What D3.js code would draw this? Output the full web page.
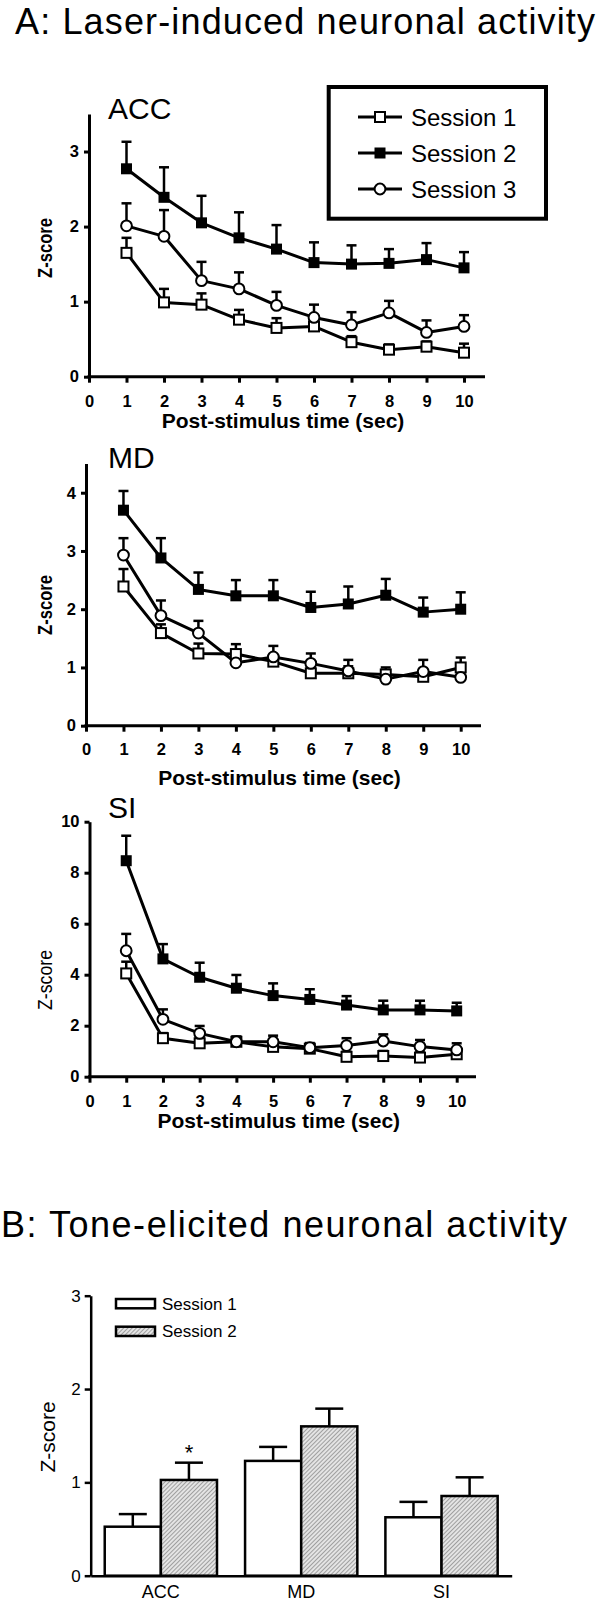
<!DOCTYPE html>
<html><head><meta charset="utf-8">
<script src="https://cdn.jsdelivr.net/npm/d3@7"></script>
<style>
body{margin:0;background:#fff}
svg{display:block}
text{font-family:"Liberation Sans",Arial,Helvetica,sans-serif;fill:#000}
</style>
</head><body>
<svg id="c" width="600" height="1603"></svg>
<script>
// ---------------- DATA ----------------
const timePoints = [1,2,3,4,5,6,7,8,9,10];
const xTickLabels = [0,1,2,3,4,5,6,7,8,9,10];
const sessionNames = ["Session 1","Session 2","Session 3"];

const accS1    = [1.65,0.99,0.96,0.76,0.65,0.67,0.46,0.36,0.40,0.32];
const accS1Sem = [0.20,0.18,0.15,0.13,0.13,0.11,0.08,0.07,0.07,0.12];
const accS2    = [2.77,2.39,2.05,1.85,1.70,1.52,1.50,1.51,1.56,1.45];
const accS2Sem = [0.36,0.40,0.36,0.34,0.32,0.27,0.25,0.19,0.22,0.21];
const accS3    = [2.01,1.87,1.28,1.17,0.95,0.79,0.69,0.85,0.59,0.67];
const accS3Sem = [0.30,0.35,0.25,0.22,0.18,0.17,0.17,0.16,0.16,0.15];
const accYTicks = [0,1,2,3];

const mdS1    = [2.39,1.59,1.24,1.23,1.10,0.90,0.90,0.88,0.84,1.00];
const mdS1Sem = [0.30,0.15,0.17,0.17,0.12,0.12,0.12,0.12,0.12,0.17];
const mdS2    = [3.70,2.88,2.34,2.23,2.23,2.03,2.09,2.24,1.95,2.00];
const mdS2Sem = [0.33,0.34,0.29,0.27,0.27,0.27,0.30,0.28,0.25,0.29];
const mdS3    = [2.93,1.89,1.59,1.08,1.18,1.07,0.94,0.80,0.93,0.83];
const mdS3Sem = [0.29,0.26,0.21,0.12,0.19,0.17,0.19,0.12,0.20,0.15];
const mdYTicks = [0,1,2,3,4];

const siS1    = [4.05,1.51,1.31,1.37,1.17,1.10,0.78,0.81,0.75,0.88];
const siS1Sem = [0.46,0.20,0.20,0.20,0.20,0.15,0.20,0.20,0.20,0.25];
const siS2    = [8.47,4.62,3.90,3.47,3.18,3.03,2.81,2.62,2.62,2.58];
const siS2Sem = [0.98,0.58,0.57,0.52,0.48,0.40,0.35,0.36,0.36,0.32];
const siS3    = [4.94,2.25,1.70,1.37,1.37,1.14,1.22,1.40,1.18,1.05];
const siS3Sem = [0.66,0.39,0.29,0.20,0.24,0.18,0.29,0.26,0.26,0.26];
const siYTicks = [0,2,4,6,8,10];

const toneRegions  = ["ACC","MD","SI"];
const toneSessions = ["Session 1","Session 2"];
const toneS1    = [0.525,1.23,0.626];
const toneS1Sem = [0.135,0.15,0.165];
const toneS2    = [1.026,1.60,0.854];
const toneS2Sem = [0.185,0.19,0.20];
const toneYTicks = [0,1,2,3];

// ---------------- LAYOUT ----------------
const svg = d3.select("#c");
const FONT = '"Liberation Sans",Arial,Helvetica,sans-serif';

svg.append("text").attr("x",15).attr("y",34)
  .attr("font-size",36).attr("textLength",580).attr("lengthAdjust","spacing")
  .text("A: Laser-induced neuronal activity");

const panels = [
  {name:"ACC", s:[accS1,accS2,accS3], e:[accS1Sem,accS2Sem,accS3Sem], yMax:3.5, yTicks:accYTicks,
   x0:89, x10:464, xEnd:485, y0:376.7, yTop:114, tickBase:406.7, labelBase:428.3, titleBase:119.3, zY:248, zBold:true, legend:true},
  {name:"MD", s:[mdS1,mdS2,mdS3], e:[mdS1Sem,mdS2Sem,mdS3Sem], yMax:4.5, yTicks:mdYTicks,
   x0:86, x10:460.7, xEnd:481, y0:725.7, yTop:463.6, tickBase:755, labelBase:785, titleBase:468.3, zY:605, zBold:true},
  {name:"SI", s:[siS1,siS2,siS3], e:[siS1Sem,siS2Sem,siS3Sem], yMax:10, yTicks:siYTicks,
   x0:89.5, x10:456.7, xEnd:476, y0:1076.7, yTop:821.7, tickBase:1106.7, labelBase:1128, titleBase:818.3, zY:980, zBold:false}
];

function marker(g, type, cx, cy){
  if(type===0){
    g.append("rect").attr("x",cx-5).attr("y",cy-5).attr("width",10).attr("height",10)
      .attr("fill","#fff").attr("stroke","#000").attr("stroke-width",2);
  } else if(type===1){
    g.append("rect").attr("x",cx-5.5).attr("y",cy-5.5).attr("width",11).attr("height",11)
      .attr("fill","#000");
  } else {
    g.append("circle").attr("cx",cx).attr("cy",cy).attr("r",5.4)
      .attr("fill","#fff").attr("stroke","#000").attr("stroke-width",2);
  }
}

panels.forEach(p=>{
  const g = svg.append("g");
  const x = d3.scaleLinear().domain([0,10]).range([p.x0,p.x10]);
  const y = d3.scaleLinear().domain([0,p.yMax]).range([p.y0,p.yTop]);

  // x axis
  const xa = g.append("g").attr("transform",`translate(0,${p.y0})`)
    .call(d3.axisBottom(x).tickValues(xTickLabels).tickSize(6).tickSizeOuter(0).tickFormat(d3.format("d")));
  xa.select(".domain").remove();
  xa.selectAll(".tick line").attr("stroke","#000").attr("stroke-width",3);
  xa.selectAll(".tick text").attr("font-family",FONT).attr("font-weight","bold").attr("font-size",16.5)
    .attr("y",p.tickBase-p.y0).attr("dy",0);
  g.append("line").attr("x1",x(0)-1.5).attr("x2",p.xEnd).attr("y1",p.y0).attr("y2",p.y0)
    .attr("stroke","#000").attr("stroke-width",3);

  // y axis
  const ya = g.append("g").attr("transform",`translate(${p.x0},0)`)
    .call(d3.axisLeft(y).tickValues(p.yTicks).tickSize(5).tickSizeOuter(0).tickPadding(5).tickFormat(d3.format("d")));
  ya.select(".domain").attr("stroke","#000").attr("stroke-width",3);
  ya.selectAll(".tick line").attr("stroke","#000").attr("stroke-width",3);
  ya.selectAll(".tick text").attr("font-family",FONT).attr("font-weight","bold").attr("font-size",16.5);

  // labels
  g.append("text").attr("x",(p.x0+p.xEnd)/2 - 4).attr("y",p.labelBase).attr("text-anchor","middle")
    .attr("font-weight","bold").attr("font-size",21).text("Post-stimulus time (sec)");
  g.append("text").attr("transform",`translate(45,${p.zY}) rotate(-90)`).attr("text-anchor","middle")
    .attr("dy","0.35em").attr("font-weight",p.zBold?"bold":"normal").attr("font-size",20)
    .attr("textLength",60).attr("lengthAdjust","spacingAndGlyphs").text("Z-score");
  g.append("text").attr("x",108).attr("y",p.titleBase).attr("font-size",30).text(p.name);

  // error bars
  p.s.forEach((vals,si)=>{
    const eg = g.append("g");
    vals.forEach((v,i)=>{
      const cx = x(timePoints[i]), top = y(v + p.e[si][i]);
      eg.append("line").attr("x1",cx).attr("x2",cx).attr("y1",y(v)).attr("y2",top)
        .attr("stroke","#000").attr("stroke-width",2.5);
      eg.append("line").attr("x1",cx-5).attr("x2",cx+5).attr("y1",top).attr("y2",top)
        .attr("stroke","#000").attr("stroke-width",2.5);
    });
  });
  // lines
  const line = d3.line().x((d,i)=>x(timePoints[i])).y(d=>y(d));
  p.s.forEach(vals=>{
    g.append("path").datum(vals).attr("d",line).attr("fill","none")
      .attr("stroke","#000").attr("stroke-width",3).attr("stroke-linejoin","round");
  });
  // markers
  p.s.forEach((vals,si)=>{
    const mg = g.append("g");
    vals.forEach((v,i)=>marker(mg, si, x(timePoints[i]), y(v)));
  });

  if(p.legend){
    const lg = g.append("g");
    lg.append("rect").attr("x",328.7).attr("y",87).attr("width",217.3).attr("height",131.7)
      .attr("fill","#fff").attr("stroke","#000").attr("stroke-width",4);
    sessionNames.forEach((s,i)=>{
      const cy = 117 + i*36;
      lg.append("line").attr("x1",358).attr("x2",402).attr("y1",cy).attr("y2",cy)
        .attr("stroke","#000").attr("stroke-width",3);
      marker(lg, i, 380, cy);
      lg.append("text").attr("x",411).attr("y",cy+8.5).attr("font-size",24).text(s);
    });
  }
});

// ---------------- PANEL B ----------------
svg.append("text").attr("x",1).attr("y",1237)
  .attr("font-size",36).attr("textLength",566).attr("lengthAdjust","spacing")
  .text("B: Tone-elicited neuronal activity");

const defs = svg.append("defs");
const pat = defs.append("pattern").attr("id","hatch").attr("patternUnits","userSpaceOnUse")
  .attr("width",3).attr("height",3).attr("patternTransform","rotate(45)");
pat.append("rect").attr("width",3).attr("height",3).attr("fill","#e4e4e4");
pat.append("line").attr("x1",0).attr("y1",0).attr("x2",0).attr("y2",3).attr("stroke","#7a7a7a").attr("stroke-width",1.3);

const bY0 = 1575.7, bYTop = 1295.7, bX0 = 90.7, bXEnd = 511.7;
const by = d3.scaleLinear().domain([0,3]).range([bY0,bYTop]);
const bx = d3.scaleBand().domain(toneRegions).range([bX0,bXEnd]).paddingInner(0.2).paddingOuter(0.1);
const bxs = d3.scaleBand().domain(toneSessions).range([0,bx.bandwidth()]);
const gB = svg.append("g");

const toneVals = [toneS1,toneS2], toneSems = [toneS1Sem,toneS2Sem];
toneSessions.forEach((s,si)=>{
  toneRegions.forEach((r,ri)=>{
    const v = toneVals[si][ri], e = toneSems[si][ri];
    const x0 = bx(r)+bxs(s), w = bxs.bandwidth(), cx = x0+w/2;
    gB.append("line").attr("x1",cx).attr("x2",cx).attr("y1",by(v)).attr("y2",by(v+e))
      .attr("stroke","#000").attr("stroke-width",2.5);
    gB.append("line").attr("x1",cx-14).attr("x2",cx+14).attr("y1",by(v+e)).attr("y2",by(v+e))
      .attr("stroke","#000").attr("stroke-width",2.5);
    gB.append("rect").attr("x",x0).attr("y",by(v)).attr("width",w).attr("height",bY0-by(v))
      .attr("fill",si===0?"#fff":"url(#hatch)").attr("stroke","#000").attr("stroke-width",2.5);
  });
});
// asterisk over ACC session 2
gB.append("text").attr("x",bx("ACC")+bxs("Session 2")+bxs.bandwidth()/2).attr("y",by(toneS2[0]+toneS2Sem[0])-3)
  .attr("text-anchor","middle").attr("font-size",22).text("*");

const bxa = gB.append("g").attr("transform",`translate(0,${bY0})`)
  .call(d3.axisBottom(bx).tickSize(0).tickPadding(0));
bxa.select(".domain").attr("stroke","#000").attr("stroke-width",2.5);
bxa.selectAll(".tick text").attr("font-family",FONT).attr("font-size",18).attr("y",22.5).attr("dy",0);

const bya = gB.append("g").attr("transform",`translate(${bX0},0)`)
  .call(d3.axisLeft(by).tickValues(toneYTicks).tickSize(6).tickSizeOuter(0).tickPadding(4).tickFormat(d3.format("d")));
bya.select(".domain").attr("stroke","#000").attr("stroke-width",2.5);
bya.selectAll(".tick line").attr("stroke","#000").attr("stroke-width",2.5);
bya.selectAll(".tick text").attr("font-family",FONT).attr("font-size",17);

gB.append("text").attr("transform","translate(48,1437) rotate(-90)").attr("text-anchor","middle")
  .attr("dy","0.35em").attr("font-size",21).text("Z-score");

toneSessions.forEach((s,i)=>{
  const yy = 1299 + i*27.7;
  gB.append("rect").attr("x",116).attr("y",yy).attr("width",39).attr("height",9.3)
    .attr("fill",i===0?"#fff":"url(#hatch)").attr("stroke","#000").attr("stroke-width",2.5);
  gB.append("text").attr("x",162).attr("y",yy+10.5).attr("font-size",17).text(s);
});
</script>
</body></html>
